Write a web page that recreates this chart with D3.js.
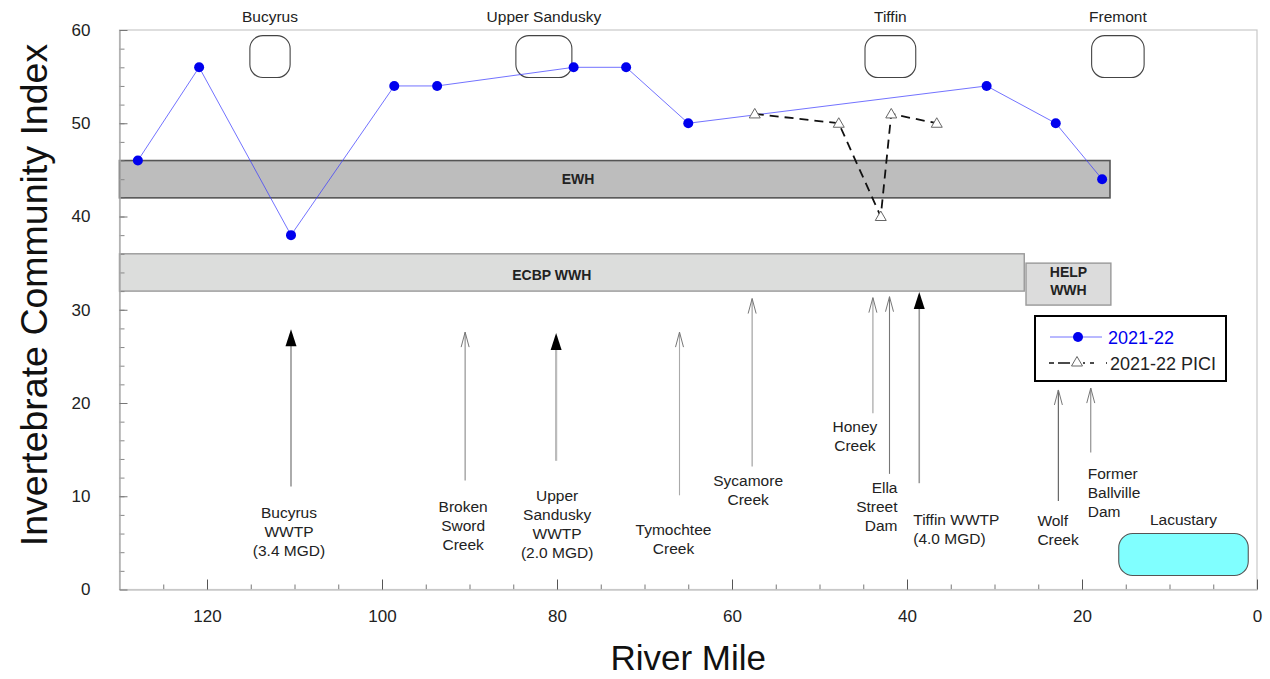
<!DOCTYPE html>
<html>
<head>
<meta charset="utf-8">
<script src="https://cdn.jsdelivr.net/npm/d3@7/dist/d3.min.js"></script>
<style>
  html, body { margin: 0; padding: 0; background: #fff; }
  svg { display: block; font-family: "Liberation Sans", Arial, sans-serif; }
</style>
</head>
<body>
<svg id="chart" width="1270" height="679"></svg>
<script>
// ---- Data ----------------------------------------------------------------
// Invertebrate Community Index (ICI) by river mile, 2021-22
const iciMiles  = [127.9, 120.9, 110.4, 98.6, 93.7, 78.1, 72.1, 65.0, 30.9, 23.0, 17.7];
const iciValues = [46, 56, 38, 54, 54, 56, 56, 50, 54, 50, 44];

// Primary-headwater ICI (PICI) sites, 2021-22
const piciMiles  = [57.4, 47.8, 43.0, 41.8, 36.6];
const piciValues = [51, 50, 40, 51, 50];

// Aquatic-life use criteria bands: label, upstream mile, downstream mile, low, high
const bandNames = ["EWH", "ECBP WWH", "HELP WWH"];
const bandFrom  = [130, 130, 26.4];
const bandTo    = [16.8, 26.6, 16.7];
const bandLow   = [42, 32, 30.5];
const bandHigh  = [46, 36, 35];

// Towns along the river: name, upstream and downstream mile of the town reach
const townNames = ["Bucyrus", "Upper Sandusky", "Tiffin", "Fremont"];
const townFrom  = [115.1, 84.7, 44.8, 18.9];
const townTo    = [110.5, 78.3, 39.0, 12.9];

// Point sources, tributaries and dams: mile, arrow tip / tail (index units)
const featLabels = [
  ["Bucyrus", "WWTP", "(3.4 MGD)"],
  ["Broken", "Sword", "Creek"],
  ["Upper", "Sandusky", "WWTP", "(2.0 MGD)"],
  ["Tymochtee", "Creek"],
  ["Sycamore", "Creek"],
  ["Honey", "Creek"],
  ["Ella", "Street", "Dam"],
  ["Tiffin WWTP", "(4.0 MGD)"],
  ["Wolf", "Creek"],
  ["Former", "Ballville", "Dam"]
];
const featMiles = [110.4, 90.5, 80.1, 66.0, 57.7, 43.9, 42.0, 38.6, 22.7, 19.0];
const featTip   = [27.9, 27.6, 27.5, 27.6, 31.2, 31.3, 31.4, 31.9, 21.4, 21.6];
const featTail  = [11.05, 11.7, 13.8, 10.1, 13.2, 18.9, 12.4, 11.4, 9.5, 14.7];
const featWWTP  = [true, false, true, false, false, false, false, true, false, false];

// Lacustrine reach near the mouth
const lakeFrom = 15.8, lakeTo = 1.0, lakeLow = 1.5, lakeHigh = 6.0;

const xTicksMajor = [120, 100, 80, 60, 40, 20, 0];
const yTicksMajor = [0, 10, 20, 30, 40, 50, 60];

// ---- Layout --------------------------------------------------------------
const svg = d3.select("#chart");
const x = d3.scaleLinear().domain([130, 0]).range([119.5, 1257]);
const y = d3.scaleLinear().domain([0, 60]).range([589.5, 30]);

const TXT = "#222";

// plot frame
svg.append("rect")
  .attr("x", x(130)).attr("y", y(60))
  .attr("width", x(0) - x(130)).attr("height", y(0) - y(60))
  .attr("fill", "none").attr("stroke", "#c8c8c8").attr("stroke-width", 1.2);

// criteria bands
const bandStyle = [
  { fill: "#bdbdbd", stroke: "#555", sw: 1.6 },
  { fill: "#dcdddc", stroke: "#999", sw: 1.4 },
  { fill: "#dcdcdc", stroke: "#999", sw: 1.4 }
];
bandNames.forEach((name, i) => {
  svg.append("rect")
    .attr("x", x(bandFrom[i])).attr("y", y(bandHigh[i]))
    .attr("width", x(bandTo[i]) - x(bandFrom[i]))
    .attr("height", y(bandLow[i]) - y(bandHigh[i]))
    .attr("fill", bandStyle[i].fill)
    .attr("stroke", bandStyle[i].stroke)
    .attr("stroke-width", bandStyle[i].sw);
});
// band labels
svg.append("text").attr("x", x(77.6)).attr("y", y(44) + 5)
  .attr("text-anchor", "middle").attr("font-size", 14).attr("font-weight", "bold")
  .attr("fill", TXT).text(bandNames[0]);
svg.append("text").attr("x", x(80.6)).attr("y", y(33.7) + 5)
  .attr("text-anchor", "middle").attr("font-size", 14).attr("font-weight", "bold")
  .attr("fill", TXT).text(bandNames[1]);
const helpMid = (bandFrom[2] + bandTo[2]) / 2;
bandNames[2].split(" ").forEach((w, k) => {
  svg.append("text").attr("x", x(helpMid)).attr("y", y(34.0) + 5 + k * 18)
    .attr("text-anchor", "middle").attr("font-size", 14).attr("font-weight", "bold")
    .attr("fill", TXT).text(w);
});

// town reaches (rounded boxes) with names above the frame
townNames.forEach((name, i) => {
  const x0 = x(townFrom[i]), x1 = x(townTo[i]);
  svg.append("rect")
    .attr("x", x0).attr("y", y(59.4))
    .attr("width", x1 - x0).attr("height", y(54.9) - y(59.4))
    .attr("rx", 13).attr("ry", 13)
    .attr("fill", "none").attr("stroke", "#444").attr("stroke-width", 1.1);
  svg.append("text")
    .attr("x", (x0 + x1) / 2).attr("y", 22)
    .attr("text-anchor", "middle").attr("font-size", 15.5).attr("fill", TXT)
    .text(name);
});

// lacustrine reach
svg.append("rect")
  .attr("x", x(lakeFrom)).attr("y", y(lakeHigh))
  .attr("width", x(lakeTo) - x(lakeFrom)).attr("height", y(lakeLow) - y(lakeHigh))
  .attr("rx", 14).attr("ry", 14)
  .attr("fill", "#80ffff").attr("stroke", "#555").attr("stroke-width", 1.1);
svg.append("text")
  .attr("x", (x(lakeFrom) + x(lakeTo)) / 2).attr("y", 525)
  .attr("text-anchor", "middle").attr("font-size", 15.5).attr("fill", TXT)
  .text("Lacustary");

// ---- Axes ----------------------------------------------------------------
const gx = svg.append("g").attr("transform", `translate(0,${y(0)})`);
gx.call(d3.axisBottom(x).tickValues(d3.range(125, 0, -5)).tickSize(-5).tickSizeOuter(0).tickFormat(""));
gx.call(g => g.selectAll(".tick line").attr("stroke", "#777"));
const gx2 = svg.append("g").attr("transform", `translate(0,${y(0)})`);
gx2.call(d3.axisBottom(x).tickValues(xTicksMajor).tickSize(-10).tickSizeOuter(0).tickPadding(20));
gx2.select(".domain").attr("stroke", "#c8c8c8").attr("stroke-width", 1.4);
gx.select(".domain").remove();
gx2.selectAll(".tick line").attr("stroke", "#555");
gx2.selectAll(".tick text").attr("font-size", 17).attr("fill", TXT)
  .attr("font-family", "'Liberation Sans', Arial, sans-serif");

const gy = svg.append("g").attr("transform", `translate(${x(130)},0)`);
gy.call(d3.axisLeft(y).tickValues(d3.range(2, 60, 2)).tickSize(-5).tickSizeOuter(0).tickFormat(""));
gy.select(".domain").remove();
gy.selectAll(".tick line").attr("stroke", "#888");
const gy2 = svg.append("g").attr("transform", `translate(${x(130)},0)`);
gy2.call(d3.axisLeft(y).tickValues(yTicksMajor).tickSize(-8).tickSizeOuter(0).tickPadding(29));
gy2.select(".domain").attr("stroke", "#aaa").attr("stroke-width", 1.4);
gy2.selectAll(".tick line").attr("stroke", "#777");
gy2.selectAll(".tick text").attr("font-size", 17).attr("fill", TXT)
  .attr("font-family", "'Liberation Sans', Arial, sans-serif");

// axis titles
svg.append("text")
  .attr("x", x(65)).attr("y", 670)
  .attr("text-anchor", "middle").attr("font-size", 35).attr("fill", "#111")
  .text("River Mile");
svg.append("text")
  .attr("transform", "translate(47,295) rotate(-90)")
  .attr("text-anchor", "middle").attr("font-size", 37.5).attr("fill", "#111")
  .text("Invertebrate Community Index");

// ---- Feature arrows --------------------------------------------------------
// label placement: anchor, x offset from arrow (px), first line centre below tail (px)
const featAnchor = ["middle", "middle", "middle", "middle", "middle", "middle", "end", "start", "start", "start"];
const featDx     = [-2, -2, 1, -6, -4, -18, 8, -6, -21, -3];
const featFirst  = [26, 26, 35, 34, 14, 13, 14, 36, 20, 21];
const featShaft  = ["#888", "#888", "#bbb", "#aaa", "#999", "#bbb", "#777", "#999", "#666", "#888"];
const featShaftW = [1.4, 1.1, 2.2, 1.1, 1.1, 1.6, 1.1, 1.6, 1.2, 1.1];

featMiles.forEach((m, i) => {
  const ax = x(m), tipY = y(featTip[i]), tailY = y(featTail[i]);
  const g = svg.append("g");
  if (featWWTP[i]) {
    g.append("line").attr("x1", ax).attr("x2", ax).attr("y1", tailY).attr("y2", tipY + 10)
      .attr("stroke", featShaft[i]).attr("stroke-width", featShaftW[i]);
    g.append("path")
      .attr("d", `M${ax},${tipY} L${ax - 5.5},${tipY + 17} L${ax + 5.5},${tipY + 17} Z`)
      .attr("fill", "#000");
  } else {
    g.append("line").attr("x1", ax).attr("x2", ax).attr("y1", tailY).attr("y2", tipY)
      .attr("stroke", featShaft[i]).attr("stroke-width", featShaftW[i]);
    g.append("path")
      .attr("d", `M${ax - 4},${tipY + 15} L${ax},${tipY} L${ax + 4},${tipY + 15}`)
      .attr("fill", "none").attr("stroke", "#777").attr("stroke-width", 1);
  }
  featLabels[i].forEach((line, k) => {
    g.append("text")
      .attr("x", ax + featDx[i])
      .attr("y", tailY + featFirst[i] + k * 19 + 5.5)
      .attr("text-anchor", featAnchor[i])
      .attr("font-size", 15.5).attr("fill", TXT)
      .text(line);
  });
});

// ---- Series ----------------------------------------------------------------
const iciPts = iciMiles.map((m, i) => [m, iciValues[i]]);
const piciPts = piciMiles.map((m, i) => [m, piciValues[i]]);
const line = d3.line().x(d => x(d[0])).y(d => y(d[1]));

svg.append("path").datum(iciPts).attr("d", line)
  .attr("fill", "none").attr("stroke", "#3a3aff").attr("stroke-width", 0.9)
  .attr("stroke-opacity", 0.8);
svg.append("path").datum(piciPts).attr("d", line)
  .attr("fill", "none").attr("stroke", "#111").attr("stroke-width", 1.8)
  .attr("stroke-dasharray", "9,6");

svg.selectAll(".ici").data(iciPts).enter().append("circle")
  .attr("cx", d => x(d[0])).attr("cy", d => y(d[1])).attr("r", 5)
  .attr("fill", "#0000ee");

const tri = (cx, cy) => `M${cx},${cy - 5.5} L${cx + 5.5},${cy + 4} L${cx - 5.5},${cy + 4} Z`;
svg.selectAll(".pici").data(piciPts).enter().append("path")
  .attr("d", d => tri(x(d[0]), y(d[1])))
  .attr("fill", "#fff").attr("stroke", "#666").attr("stroke-width", 1);

// ---- Legend ----------------------------------------------------------------
const lg = svg.append("g");
lg.append("rect").attr("x", 1035).attr("y", 316).attr("width", 191).attr("height", 65)
  .attr("fill", "#fff").attr("stroke", "#000").attr("stroke-width", 2);
lg.append("line").attr("x1", 1050).attr("x2", 1102).attr("y1", 337).attr("y2", 337)
  .attr("stroke", "#3a3aff").attr("stroke-width", 0.9).attr("stroke-opacity", 0.8);
lg.append("circle").attr("cx", 1078).attr("cy", 337).attr("r", 5).attr("fill", "#0000ee");
lg.append("text").attr("x", 1108).attr("y", 343.5).attr("font-size", 18)
  .attr("fill", "#0000ee").text("2021-22");
lg.append("line").attr("x1", 1049).attr("x2", 1107).attr("y1", 363).attr("y2", 363)
  .attr("stroke", "#111").attr("stroke-width", 1.6).attr("stroke-dasharray", "5,4,12,13,2");
lg.append("path").attr("d", tri(1077, 362)).attr("fill", "#fff").attr("stroke", "#666");
lg.append("text").attr("x", 1110).attr("y", 369.5).attr("font-size", 18)
  .attr("fill", TXT).text("2021-22 PICI");
</script>
</body>
</html>
